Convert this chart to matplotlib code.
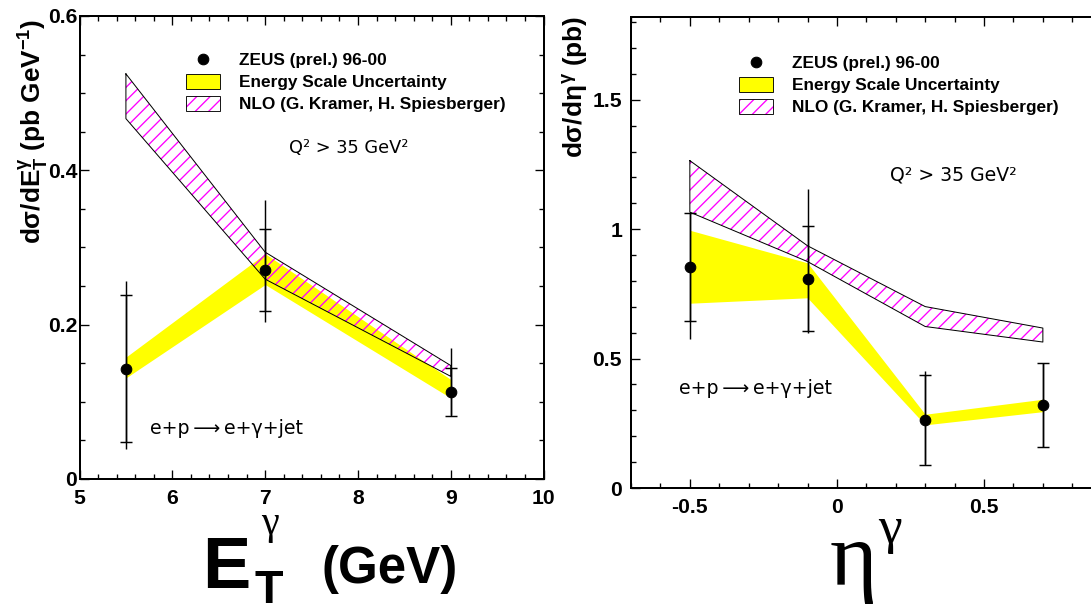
import matplotlib
matplotlib.use('Agg')
import matplotlib.pyplot as plt
from matplotlib.lines import Line2D
from matplotlib.patches import Patch
from matplotlib.legend_handler import HandlerLine2D
from matplotlib.ticker import MultipleLocator, FuncFormatter

W, H, DPI = 1091, 605, 80

# E_T^gamma distribution
et_centres = [5.5, 7.0, 9.0]
et_xsec = [0.143, 0.271, 0.113]
et_stat = [0.095, 0.053, 0.031]
et_tot_up = [0.113, 0.091, 0.057]
et_tot_dn = [0.104, 0.067, 0.030]
et_escale_lo = [0.131, 0.252, 0.105]
et_escale_hi = [0.158, 0.292, 0.129]
et_nlo_lo = [0.467, 0.259, 0.133]
et_nlo_hi = [0.525, 0.294, 0.147]

# eta^gamma distribution
eta_centres = [-0.5, -0.1, 0.3, 0.7]
eta_xsec = [0.854, 0.809, 0.263, 0.320]
eta_stat = [0.210, 0.204, 0.173, 0.162]
eta_tot_up = [0.212, 0.346, 0.188, 0.163]
eta_tot_dn = [0.277, 0.211, 0.172, 0.160]
eta_escale_lo = [0.714, 0.735, 0.244, 0.295]
eta_escale_hi = [0.996, 0.870, 0.285, 0.343]
eta_nlo_lo = [1.066, 0.875, 0.624, 0.564]
eta_nlo_hi = [1.265, 0.936, 0.701, 0.618]

legend_labels = ['ZEUS (prel.) 96-00', 'Energy Scale Uncertainty',
                 'NLO (G. Kramer, H. Spiesberger)']

plt.rcParams['font.family'] = ['Liberation Sans', 'DejaVu Sans']
plt.rcParams['font.weight'] = 'bold'
plt.rcParams['mathtext.fontset'] = 'custom'
plt.rcParams['mathtext.rm'] = 'Liberation Sans:bold'
plt.rcParams['mathtext.it'] = 'Liberation Sans'
plt.rcParams['mathtext.bf'] = 'Liberation Sans:bold'
plt.rcParams['hatch.linewidth'] = 1.2

MAGENTA = '#ff00ff'
YELLOW = '#ffff00'
THIN = dict(fontweight='normal', family='DejaVu Sans')
REACTION = 'e+p\u2009\u27f6\u2009e+\u03b3+jet'


def fx(px):
    return px / W


def fy(py):
    return 1 - py / H


class MarkerAtRight(HandlerLine2D):
    # put the legend dot at the right end of the handle box
    def get_xdata(self, legend, xdescent, ydescent, width, height, fontsize):
        xdata, _ = super().get_xdata(legend, xdescent, ydescent, width, height, fontsize)
        return xdata, [-xdescent + width]


def style_axes(ax, ypad):
    for s in ax.spines.values():
        s.set_linewidth(1.8)
    ax.tick_params(which='both', direction='in', top=True, right=True,
                   width=1.2, labelsize=19)
    ax.tick_params(axis='x', pad=9)
    ax.tick_params(axis='y', pad=ypad)
    ax.tick_params(which='major', length=8)
    ax.tick_params(which='minor', length=4.5)
    fmt = FuncFormatter(lambda v, p: '%g' % round(v, 6))
    ax.xaxis.set_major_formatter(fmt)
    ax.yaxis.set_major_formatter(fmt)


def draw_panel(ax, x, y, stat, tup, tdn, es_lo, es_hi, nlo_lo, nlo_hi):
    ax.fill_between(x, es_lo, es_hi, color=YELLOW, linewidth=0, zorder=1)
    ax.fill_between(x, nlo_lo, nlo_hi, facecolor='none', edgecolor=MAGENTA,
                    hatch='//', linewidth=0, zorder=2)
    ax.plot(x + x[::-1] + x[:1], nlo_hi + nlo_lo[::-1] + nlo_hi[:1],
            color='black', lw=0.9, zorder=3)
    # total errors without caps, statistical errors with caps
    ax.errorbar(x, y, yerr=[tdn, tup], fmt='none', ecolor='black',
                elinewidth=1.3, capsize=0, zorder=4)
    ax.errorbar(x, y, yerr=stat, fmt='o', color='black', ms=9.5,
                elinewidth=1.3, capsize=5, capthick=1.3, zorder=5)


def add_legend(ax, left_px, top_px):
    dot = Line2D([], [], marker='o', color='black', ls='none', ms=9.5)
    handles = [
        dot,
        Patch(facecolor=YELLOW, edgecolor='black', lw=0.8),
        Patch(facecolor='white', edgecolor='black', lw=0.8, hatch='//'),
    ]
    leg = ax.legend(handles, legend_labels, loc='upper left',
                    bbox_to_anchor=(fx(left_px), fy(top_px)),
                    bbox_transform=ax.figure.transFigure,
                    frameon=False, fontsize=15.5, handlelength=1.98,
                    handleheight=0.93, handletextpad=1.1, labelspacing=0.34,
                    borderaxespad=0, borderpad=0, numpoints=1,
                    handler_map={dot: MarkerAtRight()})
    leg.legend_handles[2]._hatch_color = matplotlib.colors.to_rgba(MAGENTA)
    return leg


fig = plt.figure(figsize=(W / DPI, H / DPI), dpi=DPI)

# left panel: E_T
ax1 = fig.add_axes([fx(79.5), fy(479), fx(543.6) - fx(79.5), fy(16) - fy(479)])
draw_panel(ax1, et_centres, et_xsec, et_stat, et_tot_up, et_tot_dn,
           et_escale_lo, et_escale_hi, et_nlo_lo, et_nlo_hi)
ax1.set_xlim(5, 10)
ax1.set_ylim(0, 0.6)
ax1.xaxis.set_major_locator(MultipleLocator(1))
ax1.xaxis.set_minor_locator(MultipleLocator(0.2))
ax1.yaxis.set_major_locator(MultipleLocator(0.2))
ax1.yaxis.set_minor_locator(MultipleLocator(0.05))
style_axes(ax1, ypad=2)
add_legend(ax1, 186, 52)
fig.text(fx(289), fy(148), 'Q² > 35 GeV²', fontsize=16, ha='left', va='center', **THIN)
fig.text(fx(150), fy(428), REACTION, fontsize=17, ha='left', va='center', **THIN)

# right panel: eta
ax2 = fig.add_axes([fx(631), fy(488), fx(1101.7) - fx(631), fy(17) - fy(488)])
draw_panel(ax2, eta_centres, eta_xsec, eta_stat, eta_tot_up, eta_tot_dn,
           eta_escale_lo, eta_escale_hi, eta_nlo_lo, eta_nlo_hi)
ax2.set_xlim(-0.7, 0.9)
ax2.set_ylim(0, 1.82)
ax2.xaxis.set_major_locator(MultipleLocator(0.5))
ax2.xaxis.set_minor_locator(MultipleLocator(0.1))
ax2.yaxis.set_major_locator(MultipleLocator(0.5))
ax2.yaxis.set_minor_locator(MultipleLocator(0.1))
style_axes(ax2, ypad=8)
add_legend(ax2, 739, 55)
fig.text(fx(890), fy(175), 'Q² > 35 GeV²', fontsize=17, ha='left', va='center', **THIN)
fig.text(fx(679), fy(388), REACTION, fontsize=17, ha='left', va='center', **THIN)

# axis titles
fig.text(fx(33.5), fy(19), r'd$\sigma$/dE$_{\mathrm{T}}^{\gamma}$ (pb GeV$^{\mathrm{-1}}$)',
         rotation=90, ha='center', va='top', fontsize=23.5)
fig.text(fx(575), fy(16), r'd$\sigma$/d$\eta^{\gamma}$ (pb)',
         rotation=90, ha='center', va='top', fontsize=23.5)

fig.text(fx(202), fy(588), 'E', fontsize=65, ha='left', va='baseline')
fig.text(fx(255), fy(603), 'T', fontsize=42, ha='left', va='baseline')
fig.text(fx(261), fy(534), 'γ', fontsize=36, ha='left', va='baseline',
         fontweight='normal', family='Liberation Serif')
fig.text(fx(321), fy(583), '(GeV)', fontsize=46, ha='left', va='baseline')

fig.text(fx(830), fy(585), 'η', fontsize=82, ha='left', va='baseline',
         fontweight='normal', family='Liberation Serif')
fig.text(fx(878), fy(543), 'γ', fontsize=48, ha='left', va='baseline',
         fontweight='normal', family='Liberation Serif')

fig.savefig('out.png', dpi=DPI)
